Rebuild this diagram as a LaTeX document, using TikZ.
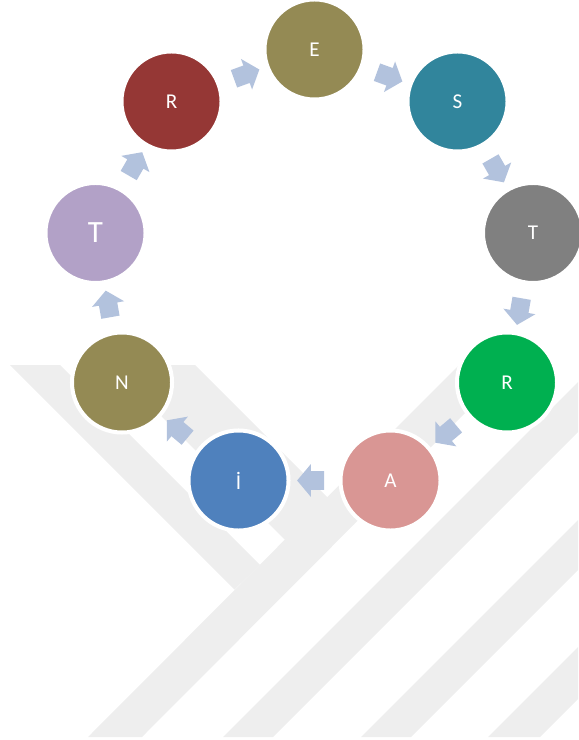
\documentclass[tikz,border=0pt]{standalone}
\usepackage{fontspec}
\setmainfont{Carlito}
\usetikzlibrary{shapes.arrows}

\definecolor{wmgray}{RGB}{238,238,238}
\definecolor{arrowblue}{RGB}{178,194,221}
\definecolor{olivefill}{RGB}{148,138,84}
\definecolor{tealfill}{RGB}{49,133,156}
\definecolor{grayfill}{RGB}{128,128,128}
\definecolor{greenfill}{RGB}{0,176,80}
\definecolor{pinkfill}{RGB}{217,150,148}
\definecolor{bluefill}{RGB}{79,129,189}
\definecolor{lilacfill}{RGB}{178,161,199}
\definecolor{redfill}{RGB}{149,55,53}

\begin{document}
\begin{tikzpicture}[x=0.025cm, y=-0.025cm,
        letter/.style={circle, draw=white, line width=0.1cm, minimum size=2.5cm,
            inner sep=0pt, text=white, font=\fontsize{15}{18}\selectfont},
        flow/.style={single arrow, fill=arrowblue, draw=none, inner xsep=0pt,
            inner ysep=0.225cm, minimum height=0.675cm,
            single arrow head extend=0.175cm, single arrow tip angle=100,
            sloped, allow upside down},
        watermark/.style={fill=wmgray, draw=none}]
        % Page frame, pixel units with y pointing down
        \useasboundingbox (0,0) rectangle (578,740);

        % Faint watermark bands behind the cycle
        \path[watermark] (10,365) -- (60,365) -- (260,565) -- (234.5,589.5) -- cycle;
        \path[watermark] (110,365) -- (195,365) -- (354,524) -- (284.5,539.5) -- cycle;
        \path[watermark] (88,737) -- (142,737) -- (513,365) -- (459,365) -- cycle;
        \path[watermark] (223,737) -- (273,737) -- (578,432) -- (578,382) -- cycle;
        \path[watermark] (361,737) -- (411,737) -- (578,570) -- (578,520) -- cycle;
        \path[watermark] (488,737) -- (540,737) -- (578,699) -- (578,647) -- cycle;

        % Letter circles, clockwise from the top
        \node[letter, fill=olivefill] (E) at (314.5,49.5) {E};
        \node[letter, fill=tealfill] (S) at (457.5,101.5) {S};
        \node[letter, fill=grayfill] (T1) at (533,233) {T};
        \node[letter, fill=greenfill] (R1) at (507,382.5) {R};
        \node[letter, fill=pinkfill] (A) at (390.5,480.5) {A};
        \node[letter, fill=bluefill] (I) at (238.5,480.5) {İ};
        \node[letter, fill=olivefill] (N) at (122,382.5) {N};
        \node[letter, fill=lilacfill, font=\fontsize{22}{26}\selectfont] (T2) at (95.5,233) {T};
        \node[letter, fill=redfill] (R2) at (171.5,101.5) {R};

        % Block arrows between neighbours
        \path (E) -- node[flow] {} (S);
        \path (S) -- node[flow] {} (T1);
        \path (T1) -- node[flow] {} (R1);
        \path (R1) -- node[flow] {} (A);
        \path (A) -- node[flow] {} (I);
        \path (I) -- node[flow] {} (N);
        \path (N) -- node[flow] {} (T2);
        \path (T2) -- node[flow] {} (R2);
        \path (R2) -- node[flow] {} (E);
    \end{tikzpicture}
\end{document}
